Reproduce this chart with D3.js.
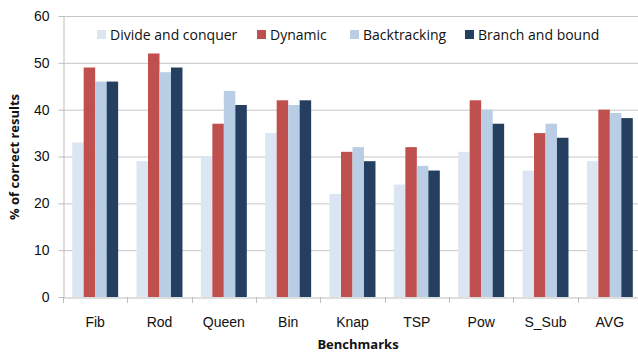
<!DOCTYPE html>
<html>
<head>
<meta charset="utf-8">
<script src="https://cdn.jsdelivr.net/npm/d3@7"></script>
<style>
  html, body { margin: 0; padding: 0; background: #fff; }
  svg { display: block; font-family: "Open Sans", "Noto Sans", sans-serif; }
</style>
</head>
<body>
<svg id="chart" width="638" height="354"></svg>
<script>
// Benchmarks on the x axis
const categories = ["Fib", "Rod", "Queen", "Bin", "Knap", "TSP", "Pow", "S_Sub", "AVG"];
// Algorithm design techniques (series)
const seriesNames = ["Divide and conquer", "Dynamic", "Backtracking", "Branch and bound"];
// % of correct results per technique, one value per benchmark
const divideAndConquer = [33, 29, 30, 35, 22, 24, 31, 27, 29];
const dynamic          = [49, 52, 37, 42, 31, 32, 42, 35, 40];
const backtracking     = [46, 48, 44, 41, 32, 28, 40, 37, 39.3];
const branchAndBound   = [46, 49, 41, 42, 29, 27, 37, 34, 38.2];
const yTicks = [0, 10, 20, 30, 40, 50, 60];

const seriesValues = [divideAndConquer, dynamic, backtracking, branchAndBound];
const colors = ["#dce6f2", "#c0504d", "#b9cde5", "#243f60"];

const svg = d3.select("#chart");
const margin = { left: 63, top: 16, bottom: 57 };
const plotRight = 642;
const plotBottom = 354 - margin.bottom;

const x = d3.scaleBand().domain(categories).range([margin.left, plotRight]).paddingInner(0).paddingOuter(0);
const xs = d3.scaleBand().domain(seriesNames).range([0, x.bandwidth()]).paddingInner(0).paddingOuter(0.8);
const y = d3.scaleLinear().domain([0, 60]).range([plotBottom, margin.top]);

// horizontal gridlines
svg.append("g")
  .selectAll("line")
  .data(yTicks.filter(t => t > 0))
  .join("line")
  .attr("x1", margin.left).attr("x2", plotRight)
  .attr("y1", d => y(d) + 0.5).attr("y2", d => y(d) + 0.5)
  .attr("stroke", "#c6c6c6").attr("stroke-width", 1);

// bars
const groups = svg.append("g")
  .selectAll("g")
  .data(categories)
  .join("g")
  .attr("transform", d => `translate(${x(d)},0)`);

groups.selectAll("rect")
  .data((c, i) => seriesNames.map((s, k) => ({ s, k, v: seriesValues[k][i] })))
  .join("rect")
  .attr("x", d => xs(d.s))
  .attr("width", xs.bandwidth())
  .attr("y", d => y(d.v))
  .attr("height", d => y(0) - y(d.v))
  .attr("fill", d => colors[d.k]);

// y axis
const yAxis = svg.append("g")
  .attr("transform", `translate(${margin.left + 0.5},0)`)
  .call(d3.axisLeft(y).tickValues(yTicks).tickSize(5).tickPadding(9).tickSizeOuter(0));
yAxis.select(".domain").attr("stroke", "#bdbdbd");
yAxis.selectAll(".tick line").attr("stroke", "#bdbdbd");
yAxis.selectAll(".tick text").attr("font-size", 14).attr("fill", "#111");

// x axis
const xAxis = svg.append("g")
  .attr("transform", `translate(0,${plotBottom + 0.5})`)
  .call(d3.axisBottom(x).tickSize(0).tickPadding(20).tickSizeOuter(0));
xAxis.select(".domain").attr("stroke", "#bdbdbd");
xAxis.selectAll(".tick text").attr("font-size", 14).attr("fill", "#111");
// category separators below the axis
svg.append("g")
  .selectAll("line")
  .data(categories)
  .join("line")
  .attr("x1", d => Math.round(x(d)) + 0.5).attr("x2", d => Math.round(x(d)) + 0.5)
  .attr("y1", plotBottom).attr("y2", plotBottom + 6)
  .attr("stroke", "#bdbdbd");

// axis titles
svg.append("text")
  .attr("x", 358).attr("y", 349)
  .attr("text-anchor", "middle")
  .attr("font-size", 13).attr("font-weight", "bold").attr("fill", "#111")
  .text("Benchmarks");

svg.append("text")
  .attr("transform", "translate(19,157) rotate(-90)")
  .attr("text-anchor", "middle")
  .attr("font-size", 13).attr("font-weight", "bold").attr("fill", "#111")
  .text("% of correct results");

// legend
const legendX = [97, 257, 350, 465];
const legend = svg.append("g")
  .selectAll("g")
  .data(seriesNames)
  .join("g")
  .attr("transform", (d, i) => `translate(${legendX[i]},35)`);
legend.append("rect")
  .attr("x", 0).attr("y", -5).attr("width", 9).attr("height", 9)
  .attr("fill", (d, i) => colors[i]);
legend.append("text")
  .attr("x", 13).attr("y", 5)
  .attr("font-size", 14).attr("fill", "#111")
  .text(d => d);
</script>
</body>
</html>
